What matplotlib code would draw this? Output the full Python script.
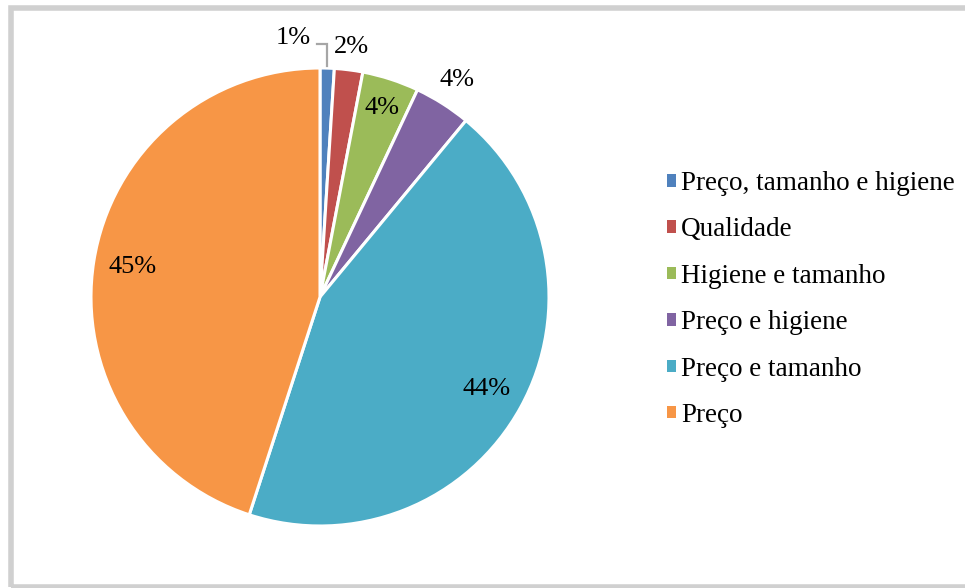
import numpy as np
import matplotlib.pyplot as plt
from matplotlib.patches import Patch, Rectangle

# Critérios de escolha (%)
categorias = ['Preço, tamanho e higiene', 'Qualidade', 'Higiene e tamanho',
              'Preço e higiene', 'Preço e tamanho', 'Preço']
valores = [1, 2, 4, 4, 44, 45]
cores = ['#4F81BD', '#C0504D', '#9BBB59', '#8064A2', '#4BACC6', '#F79646']

# distância radial de cada rótulo (em raios)
dist_rotulo = [None, 1.10, 0.87, 1.12, 0.83, 0.83]

plt.rcParams['font.family'] = ['Liberation Serif', 'DejaVu Serif']

fig = plt.figure(figsize=(9.65, 5.88), dpi=100)

# moldura cinza
fig.patches.append(Rectangle((10.5 / 965, 1 / 588), 1.05, 1 - 9 / 588,
                             transform=fig.transFigure, fill=False,
                             edgecolor='#D0D0D0', linewidth=4))

R = 229
cx, cy = 320, 297
ax = fig.add_axes([(cx - R) / 965, (588 - cy - R) / 588, 2 * R / 965, 2 * R / 588])
wedges, _ = ax.pie(valores, colors=cores, startangle=90, counterclock=False,
                   radius=1, wedgeprops=dict(edgecolor='white', linewidth=2.2))
ax.set_xlim(-1, 1)
ax.set_ylim(-1, 1)
ax.axis('off')

for w, v, d in zip(wedges, valores, dist_rotulo):
    ang = np.deg2rad((w.theta1 + w.theta2) / 2)
    x, y = np.cos(ang), np.sin(ang)
    if d is None:
        # fatia pequena: rótulo deslocado com linha de chamada
        ax.plot([x, x, -0.013], [1.01, 1.105, 1.105], color='#A6A6A6',
                lw=1.6, clip_on=False, solid_joinstyle='miter')
        ax.text(-0.118, 1.131, f'{v}%', ha='center', va='center', fontsize=19)
    else:
        ax.text(d * x, d * y, f'{v}%', ha='center', va='center', fontsize=19)

handles = [Patch(facecolor=c, edgecolor='none') for c in cores]
fig.legend(handles, categorias, loc='center left',
           bbox_to_anchor=(667 / 965, 1 - 299.5 / 588), frameon=False,
           fontsize=19.5, handlelength=0.33, handleheight=0.33,
           handletextpad=0.2, labelspacing=0.79, borderpad=0,
           borderaxespad=0)

fig.savefig('out.png', dpi=100)
